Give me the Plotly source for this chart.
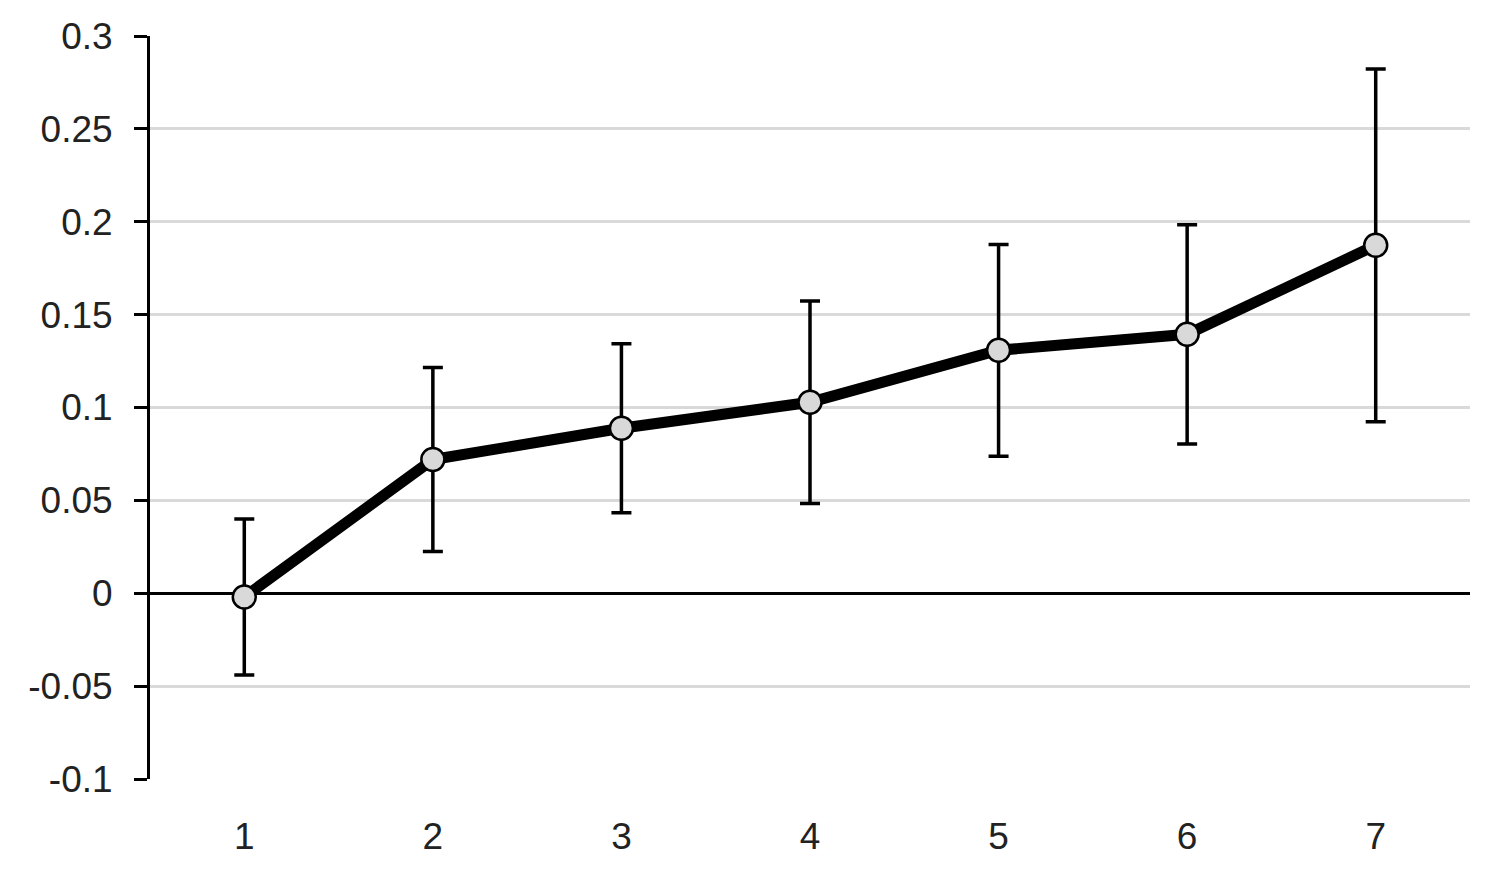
import plotly.graph_objects as go

# values
periods = [1, 2, 3, 4, 5, 6, 7]
means = [-0.002, 0.072, 0.0888, 0.1028, 0.1308, 0.1394, 0.1873]
errors = [0.042, 0.0495, 0.0455, 0.0545, 0.057, 0.059, 0.095]

y_ticks = [-0.1, -0.05, 0, 0.05, 0.1, 0.15, 0.2, 0.25, 0.3]
y_labels = ["-0.1", "-0.05", "0", "0.05", "0.1", "0.15", "0.2", "0.25", "0.3"]

fig = go.Figure()

# error bars on their own, under the line
fig.add_trace(go.Scatter(
    x=periods, y=means, mode="markers",
    marker=dict(size=1, color="rgba(0,0,0,0)"),
    error_y=dict(type="data", array=errors, visible=True,
                 color="black", thickness=3.5, width=10),
    hoverinfo="skip", showlegend=False,
))

fig.add_trace(go.Scatter(
    x=periods, y=means, mode="lines+markers",
    line=dict(color="black", width=11),
    marker=dict(size=23, color="#d9d9d9", line=dict(color="black", width=2.5)),
    showlegend=False,
))

# page body has an 8px margin, so the figure is a bit smaller than the window
fig.update_layout(
    width=1476, height=853,
    margin=dict(l=142, r=14, t=28, b=82),
    paper_bgcolor="white", plot_bgcolor="white",
    font=dict(family="Liberation Sans, Arial, sans-serif", size=37, color="#222222"),
    xaxis=dict(
        range=[0.5, 7.5], tickvals=periods, ticktext=[str(p) for p in periods],
        showgrid=False, zeroline=False, showline=False, ticks="",
        ticklabelstandoff=32, fixedrange=True, automargin=False,
    ),
    yaxis=dict(
        range=[-0.1, 0.3], tickvals=y_ticks, ticktext=y_labels,
        showgrid=True, gridcolor="#d9d9d9", gridwidth=3,
        zeroline=True, zerolinecolor="black", zerolinewidth=3,
        showline=True, linecolor="black", linewidth=3,
        ticks="outside", ticklen=13, tickwidth=3, tickcolor="black",
        ticklabelstandoff=14, fixedrange=True,
        automargin=False, ticklabeloverflow="allow",
    ),
)

fig.write_html("out.html")
